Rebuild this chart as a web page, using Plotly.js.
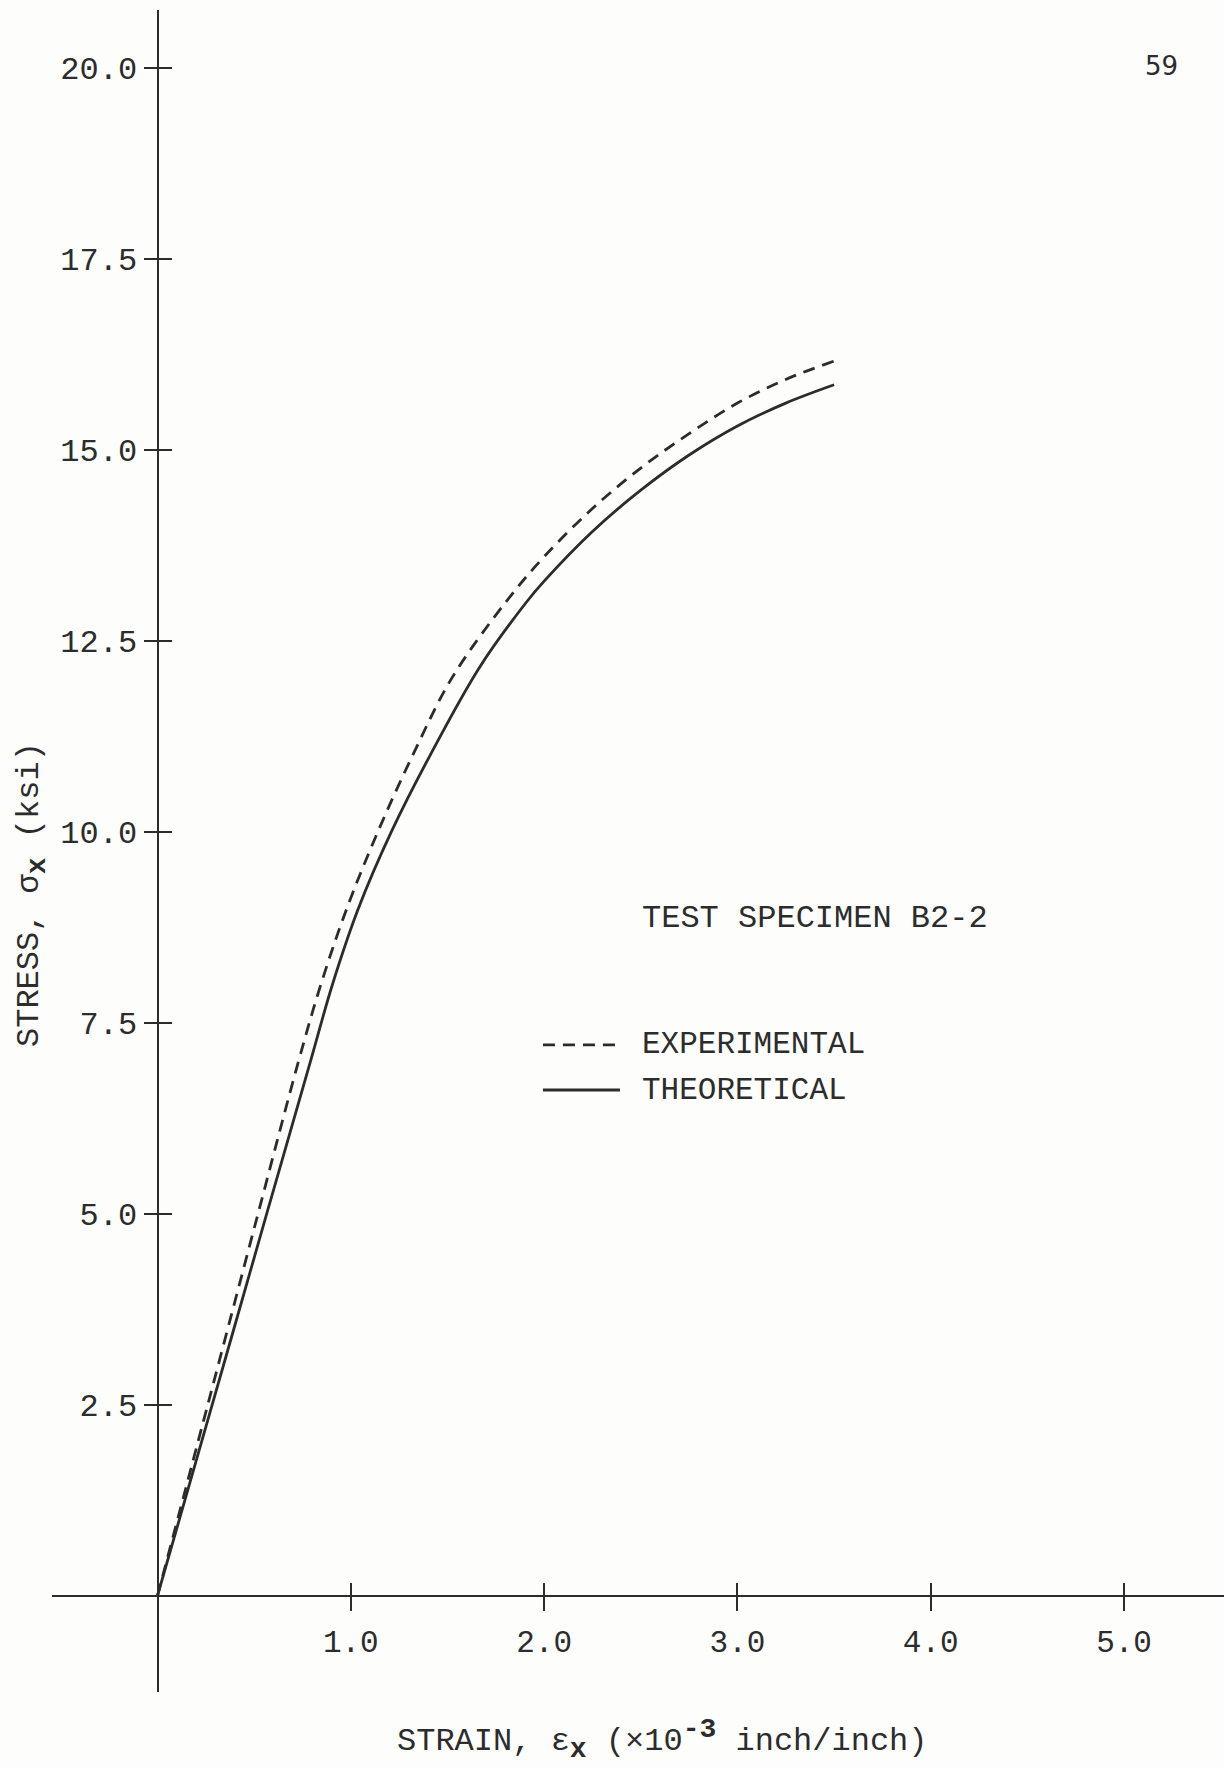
<!DOCTYPE html>
<html>
<head>
<meta charset="utf-8">
<script src="https://cdn.plot.ly/plotly-3.0.1.min.js"></script>
<style>
  html, body { margin: 0; padding: 0; background: #fdfdfc; }
  #chart { width: 1224px; height: 1768px; }
</style>
</head>
<body>
<div id="chart"></div>
<script>
// ---- data (strain in 1e-3 inch/inch, stress in ksi) ----
const strainExp  = [0, 0.26, 0.52, 0.73, 0.845, 0.98, 1.14, 1.32, 1.52, 1.80, 2.0,  2.25,  2.5,   2.75,  3.0,   3.25,  3.5];
const stressExp  = [0, 2.5,  5.0,  7.0,  8.0,   9.0,  10.0, 11.0, 12.0, 13.0, 13.6, 14.23, 14.76, 15.21, 15.61, 15.92, 16.16];
const strainTheo = [0, 0.283, 0.565, 0.792, 0.905, 1.04, 1.21, 1.41, 1.668, 1.91,  2.0,   2.25,  2.5,   2.75,  3.0,   3.25,  3.5];
const stressTheo = [0, 2.5,   5.0,   7.0,   8.0,   9.0,  10.0, 11.0, 12.16, 13.01, 13.28, 13.93, 14.47, 14.93, 15.31, 15.61, 15.85];

const xTickVals = [1, 2, 3, 4, 5];
const xTickText = ['1.0', '2.0', '3.0', '4.0', '5.0'];
const yTickVals = [2.5, 5, 7.5, 10, 12.5, 15, 17.5, 20];
const yTickText = ['2.5', '5.0', '7.5', '10.0', '12.5', '15.0', '17.5', '20.0'];

const seriesNames = ['EXPERIMENTAL', 'THEORETICAL'];
const specimenLabel = 'TEST SPECIMEN B2-2';
const pageNumber = '59';
const xTitle = 'STRAIN, \u03b5<sub><span style="font-size:28px;font-weight:bold">x</span></sub> (\u00d710<sup><span style="font-size:28px;font-weight:bold">-3</span></sup> inch/inch)';
const yTitle = 'STRESS, \u03c3<sub><span style="font-size:28px;font-weight:bold">x</span></sub> (ksi)';

// ---- styling ----
const ink = '#2c2c2c';
const mono = 'Liberation Mono, Courier New, monospace';
const xRange = [-0.5458, 5.517];
const yRange = [-1.260, 20.755];
const xZeroPos = (0 - yRange[0]) / (yRange[1] - yRange[0]);
const yZeroPos = (0 - xRange[0]) / (xRange[1] - xRange[0]);

const traces = [
  {
    x: strainExp, y: stressExp, name: seriesNames[0], type: 'scatter', mode: 'lines',
    line: { color: ink, width: 2.8, dash: '12px,8px', shape: 'spline', smoothing: 1 },
    xaxis: 'x', yaxis: 'y', showlegend: false, hoverinfo: 'skip'
  },
  {
    x: strainTheo, y: stressTheo, name: seriesNames[1], type: 'scatter', mode: 'lines',
    line: { color: ink, width: 2.8, shape: 'spline', smoothing: 1 },
    xaxis: 'x2', yaxis: 'y2', showlegend: false, hoverinfo: 'skip'
  }
];

const axisCommon = { showgrid: false, zeroline: false, fixedrange: true, automargin: false };

const layout = {
  width: 1224, height: 1768,
  margin: { l: 52, r: 0, t: 10, b: 76, pad: 0 },
  paper_bgcolor: '#fdfdfc', plot_bgcolor: 'rgba(0,0,0,0)',
  showlegend: false,
  font: { family: mono, color: ink, size: 31 },
  xaxis: Object.assign({}, axisCommon, {
    range: xRange, anchor: 'free', position: xZeroPos,
    showline: true, linecolor: ink, linewidth: 2,
    ticks: 'outside', ticklen: 14, tickwidth: 2, tickcolor: ink,
    tickvals: xTickVals, ticktext: xTickText, ticklabelstandoff: 4,
    tickfont: { family: mono, size: 31, color: ink }
  }),
  xaxis2: Object.assign({}, axisCommon, {
    range: xRange, overlaying: 'x', anchor: 'free', position: xZeroPos,
    showline: false, ticks: 'inside', ticklen: 13, tickwidth: 2, tickcolor: ink,
    tickvals: xTickVals, showticklabels: false
  }),
  yaxis: Object.assign({}, axisCommon, {
    range: yRange, anchor: 'free', position: yZeroPos,
    showline: true, linecolor: ink, linewidth: 2,
    ticks: 'outside', ticklen: 13, tickwidth: 2, tickcolor: ink,
    tickvals: yTickVals, ticktext: yTickText, ticklabelstandoff: 0,
    tickfont: { family: mono, size: 32, color: ink }
  }),
  yaxis2: Object.assign({}, axisCommon, {
    range: yRange, overlaying: 'y', anchor: 'free', position: yZeroPos,
    showline: false, ticks: 'inside', ticklen: 13, tickwidth: 2, tickcolor: ink,
    tickvals: yTickVals, showticklabels: false
  }),
  shapes: [
    { type: 'line', xref: 'paper', yref: 'paper', x0: 0.4189, x1: 0.4846, y0: 0.3847, y1: 0.3847,
      line: { color: ink, width: 2.8, dash: '12px,8px' } },
    { type: 'line', xref: 'paper', yref: 'paper', x0: 0.4189, x1: 0.4846, y0: 0.3579, y1: 0.3579,
      line: { color: ink, width: 2.8 } }
  ],
  annotations: [
    { text: specimenLabel, xref: 'paper', yref: 'paper', x: 0.5017, y: 0.460,
      xanchor: 'left', yanchor: 'middle', showarrow: false, font: { family: mono, size: 32, color: ink } },
    { text: seriesNames[0], xref: 'paper', yref: 'paper', x: 0.5017, y: 0.3847,
      xanchor: 'left', yanchor: 'middle', showarrow: false, font: { family: mono, size: 31, color: ink } },
    { text: seriesNames[1], xref: 'paper', yref: 'paper', x: 0.5017, y: 0.3579,
      xanchor: 'left', yanchor: 'middle', showarrow: false, font: { family: mono, size: 31, color: ink } },
    { text: xTitle, xref: 'paper', yref: 'paper', x: 0.5205, y: -0.0285,
      xanchor: 'center', yanchor: 'middle', showarrow: false, font: { family: mono, size: 32, color: ink } },
    { text: yTitle, xref: 'paper', yref: 'paper', x: -0.0171, y: 0.4744, textangle: -90,
      xanchor: 'center', yanchor: 'middle', showarrow: false, font: { family: mono, size: 32, color: ink } },
    { text: pageNumber, xref: 'paper', yref: 'paper', x: 0.947, y: 0.967,
      xanchor: 'center', yanchor: 'middle', showarrow: false, font: { family: 'DejaVu Sans, sans-serif', size: 26, color: ink } }
  ]
};

Plotly.newPlot('chart', traces, layout, { staticPlot: true, displayModeBar: false });
</script>
</body>
</html>
